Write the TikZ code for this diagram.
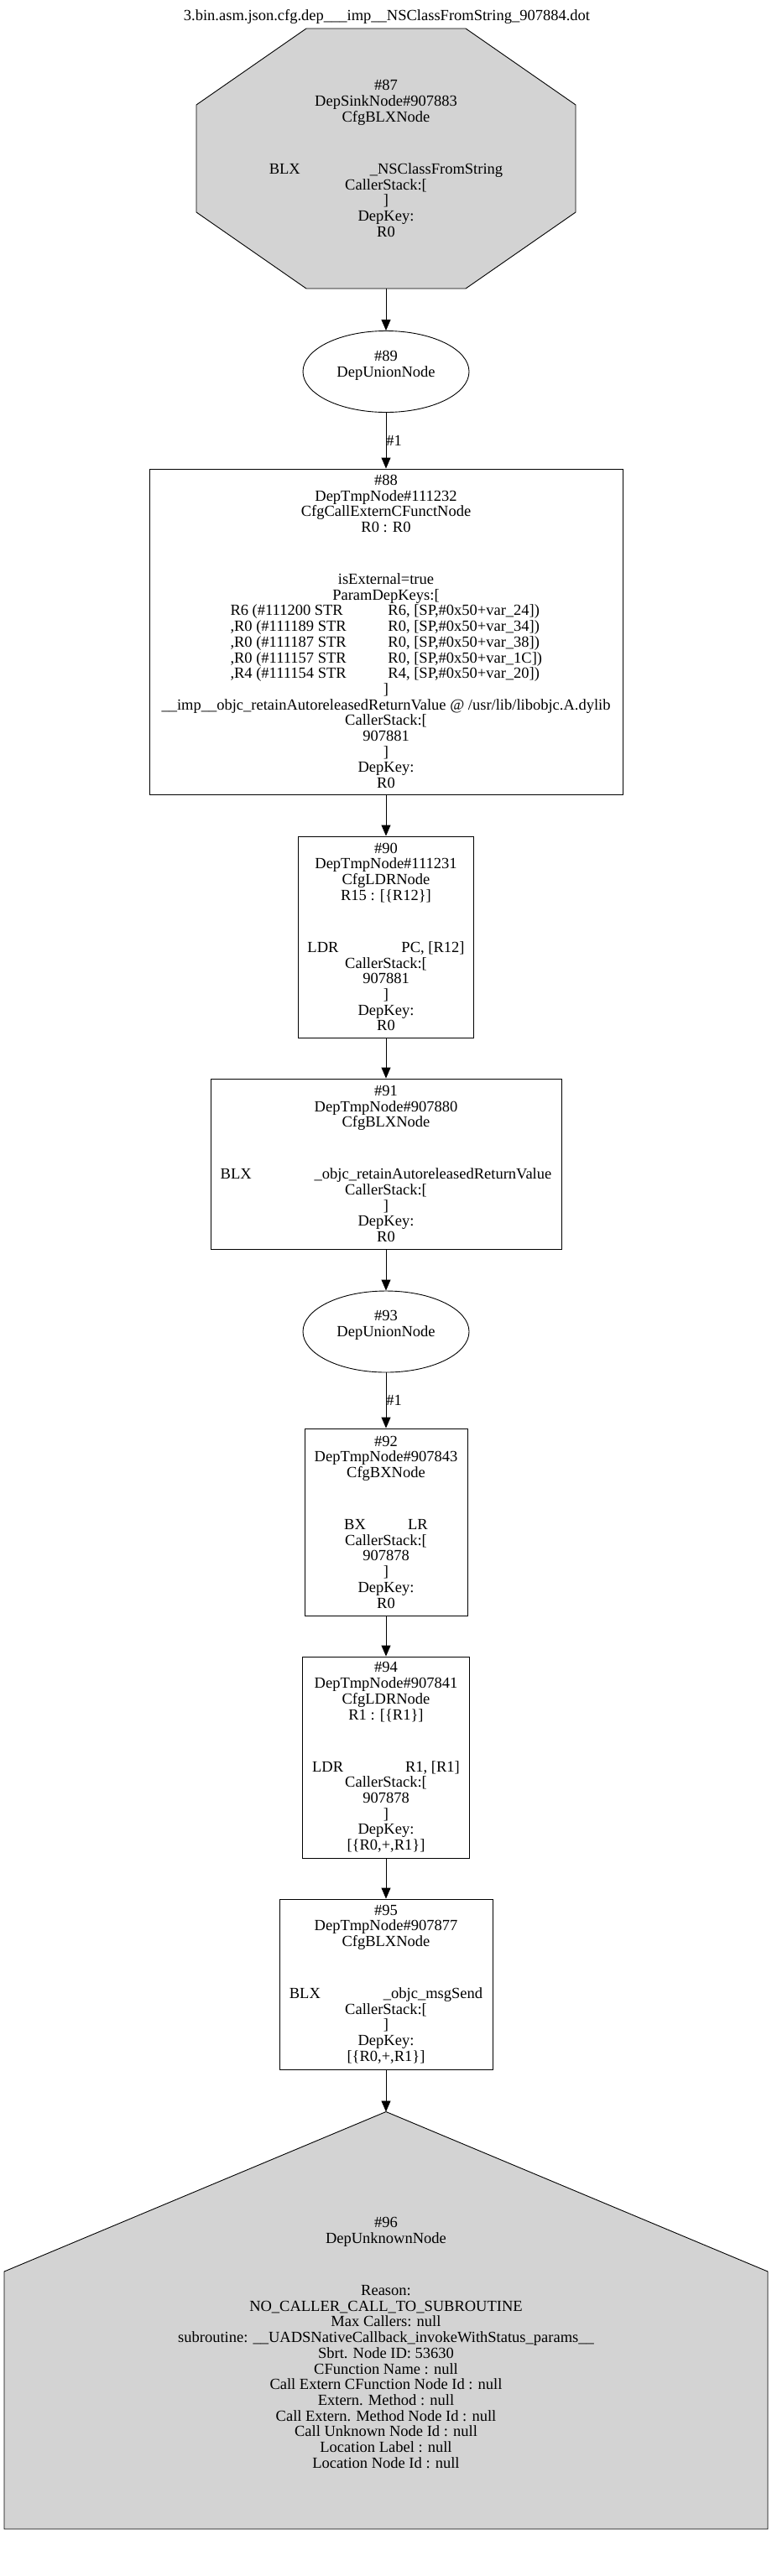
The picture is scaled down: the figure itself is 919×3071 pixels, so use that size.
\documentclass[tikz,border=0pt]{standalone}
\usepackage{fontspec}
\setmainfont{Liberation Serif}
\usetikzlibrary{arrows.meta,shapes.geometric}
\definecolor{shapegray}{HTML}{D3D3D3}
\newcommand{\tabline}[3]{\makebox[#1][l]{#2}#3}
\newcommand{\paramkey}[2]{\makebox[371pt][l]{\makebox[188pt][l]{#1}#2}}
\begin{document}
\begin{tikzpicture}[x=1pt,y=-1pt,
  every node/.style={font=\fontsize{18.5pt}{18.7pt}\selectfont, inner sep=0pt, align=center},
  box/.style={draw, line width=0.9pt, rectangle},
  oval/.style={draw, line width=0.9pt, ellipse, minimum width=198pt, minimum height=97pt},
  plain/.style={rectangle},
  shapeline/.style={draw=black, fill=shapegray, line width=0.9pt, line join=miter},
  edge/.style={draw, line width=0.9pt, -{Triangle[length=13pt,width=11pt]}},
  elabel/.style={anchor=west, inner sep=0pt}
]
\useasboundingbox (0,0) rectangle (919,3071);

% title
\node (title) at (461,20) {3.bin.asm.json.cfg.dep\_\_\_imp\_\_NSClassFromString\_907884.dot};

% #87 octagon
\path[shapeline] (365,34) -- (555,34) -- (686,125) -- (686,253) -- (555,344) -- (365,344) -- (234,253) -- (234,125) -- cycle;
\node[plain, minimum width=452pt, minimum height=310pt] (n87) at (460,189)
  {\#87\\DepSinkNode\#907883\\CfgBLXNode\\[43.3pt]\tabline{120pt}{BLX}{\_NSClassFromString}\\CallerStack:[\\]\\DepKey:\\R0};

% #89 ellipse
\node[oval] (n89) at (460,443) {\#89\\DepUnionNode\\\mbox{}};

% #88 box
\node[box, minimum width=564pt, minimum height=388pt] (n88) at (460,753)
  {\#88\\DepTmpNode\#111232\\CfgCallExternCFunctNode\\R0 : R0\\[43.3pt]isExternal=true\\ParamDepKeys:[\\
   \paramkey{R6 (\#111200 STR}{R6, [SP,\#0x50+var\_24])}\\
   \paramkey{,R0 (\#111189 STR}{R0, [SP,\#0x50+var\_34])}\\
   \paramkey{,R0 (\#111187 STR}{R0, [SP,\#0x50+var\_38])}\\
   \paramkey{,R0 (\#111157 STR}{R0, [SP,\#0x50+var\_1C])}\\
   \paramkey{,R4 (\#111154 STR}{R4, [SP,\#0x50+var\_20])}\\
   {]}\\\_\_imp\_\_objc\_retainAutoreleasedReturnValue @ /usr/lib/libobjc.A.dylib\\CallerStack:[\\907881\\{]}\\DepKey:\\R0};

% #90 box
\node[box, minimum width=209pt, minimum height=240pt] (n90) at (460,1117)
  {\#90\\DepTmpNode\#111231\\CfgLDRNode\\R15 : [\{R12\}]\\[43.3pt]\tabline{112pt}{LDR}{PC, [R12]}\\CallerStack:[\\907881\\{]}\\DepKey:\\R0};

% #91 box
\node[box, minimum width=418pt, minimum height=203pt] (n91) at (460,1387.5)
  {\#91\\DepTmpNode\#907880\\CfgBLXNode\\[43.3pt]\tabline{112pt}{BLX}{\_objc\_retainAutoreleasedReturnValue}\\CallerStack:[\\{]}\\DepKey:\\R0};

% #93 ellipse
\node[oval] (n93) at (460,1587.5) {\#93\\DepUnionNode\\\mbox{}};

% #92 box
\node[box, minimum width=194pt, minimum height=223pt] (n92) at (460,1814.5)
  {\#92\\DepTmpNode\#907843\\CfgBXNode\\[43.3pt]\tabline{76pt}{BX}{LR}\\CallerStack:[\\907878\\{]}\\DepKey:\\R0};

% #94 box
\node[box, minimum width=199pt, minimum height=240pt] (n94) at (460,2095)
  {\#94\\DepTmpNode\#907841\\CfgLDRNode\\R1 : [\{R1\}]\\[43.3pt]\tabline{111pt}{LDR}{R1, [R1]}\\CallerStack:[\\907878\\{]}\\DepKey:\\{[}\{R0,+,R1\}{]}};

% #95 box
\node[box, minimum width=254pt, minimum height=203pt] (n95) at (460,2365.5)
  {\#95\\DepTmpNode\#907877\\CfgBLXNode\\[43.3pt]\tabline{112pt}{BLX}{\_objc\_msgSend}\\CallerStack:[\\{]}\\DepKey:\\{[}\{R0,+,R1\}{]}};

% #96 house
\path[shapeline] (460,2517.5) -- (915,2708) -- (915,3015) -- (5,3015) -- (5,2708) -- cycle;
\coordinate (n96apex) at (460,2517.5);
\node[plain] (n96) at (460,2793)
  {\#96\\DepUnknownNode\\[43.3pt]Reason:\\NO\_CALLER\_CALL\_TO\_SUBROUTINE\\Max Callers: null\\subroutine: \_\_UADSNativeCallback\_invokeWithStatus\_params\_\_\\Sbrt. Node ID: 53630\\CFunction Name : null\\Call Extern CFunction Node Id : null\\Extern. Method : null\\Call Extern. Method Node Id : null\\Call Unknown Node Id : null\\Location Label : null\\Location Node Id : null};

% connectors
\draw[edge] (n87.south) -- (n89.north);
\draw[edge] (n89.south) -- node[elabel] (l1) {\#1} (n88.north);
\draw[edge] (n88.south) -- (n90.north);
\draw[edge] (n90.south) -- (n91.north);
\draw[edge] (n91.south) -- (n93.north);
\draw[edge] (n93.south) -- node[elabel] (l2) {\#1} (n92.north);
\draw[edge] (n92.south) -- (n94.north);
\draw[edge] (n94.south) -- (n95.north);
\draw[edge] (n95.south) -- (n96apex);
\end{tikzpicture}
\end{document}
